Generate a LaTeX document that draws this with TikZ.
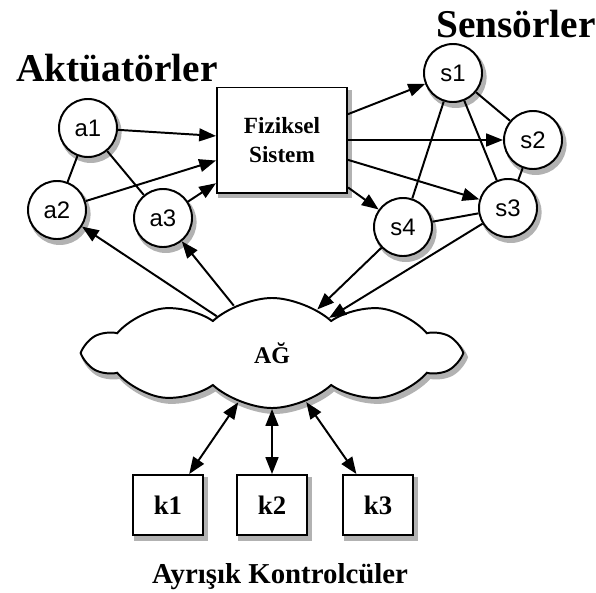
\documentclass[tikz,border=0pt]{standalone}
\usepackage{fontspec}
\setmainfont{Liberation Serif}
\newfontfamily\circfont{Liberation Sans}
\usetikzlibrary{arrows.meta,shapes.symbols,shadows}

\tikzset{
  shad/.style={preaction={draw=black!30,fill=black!30,line width=2.5pt,transform canvas={xshift=2pt,yshift=-3pt}}},
  dev/.style={circle,draw,fill=white,shad,minimum size=1.45cm,inner sep=0pt,font=\circfont\fontsize{17}{17}\selectfont},
  kbox/.style={rectangle,draw,fill=white,shad,minimum width=1.75cm,minimum height=1.5cm,font=\bfseries\fontsize{19}{19}\selectfont},
  title/.style={font=\bfseries\fontsize{28}{28}\selectfont}
}

\begin{document}
\begin{tikzpicture}[x=0.025cm,y=-0.025cm,line width=1.4pt,>={Triangle[length=4.2mm,width=3.2mm]}]
\useasboundingbox (0,0) rectangle (596,592);
\node[title] (act) at (117,68) {Akt\"uat\"orler};
\node[title] (sens) at (516,24) {Sens\"orler};
% fiziksel sistem
\node[rectangle,draw,fill=white,shad,minimum width=3.25cm,minimum height=2.625cm,align=center,font=\bfseries\fontsize{16.5}{20}\selectfont] (fs) at (282,140) {Fiziksel\\Sistem};
\node[dev] (a1) at (88,128) {a1};
\node[dev] (a2) at (57,210) {a2};
\node[dev] (a3) at (163,218) {a3};
\node[dev] (s1) at (453,73) {s1};
\node[dev] (s2) at (533,140) {s2};
\node[dev] (s3) at (508,208) {s3};
\node[dev] (s4) at (403,227) {s4};
% ag
\node[cloud,draw,fill=white,shad,cloud puffs=10,cloud puff arc=85,aspect=3.4,minimum width=9.3cm,minimum height=2.75cm,font=\bfseries\fontsize{17}{17}\selectfont] (ag) at (272,353) {A\u{G}};
\node[kbox] (k1) at (168,505) {k1};
\node[kbox] (k2) at (272,505) {k2};
\node[kbox] (k3) at (378,505) {k3};
\node[font=\bfseries\fontsize{20.5}{20.5}\selectfont] (kont) at (280,577) {Ayr\i\c{s}\i k Kontrolc\"uler};

\draw (a1) -- (a2);
\draw (a1) -- (a3);
\draw (s1) -- (s2);
\draw (s1) -- (s3);
\draw (s1) -- (s4);
\draw (s2) -- (s3);
\draw (s3) -- (s4);
\draw[->] (a1) -- (fs);
\draw[->] (a2) -- (fs);
\draw[->] (a3) -- (fs);
\draw[->] (fs) -- (s1);
\draw[->] (fs) -- (s2);
\draw[->] (fs) -- (s3);
\draw[->] (fs) -- (s4);
\draw[->] (ag) -- (a2);
\draw[->] (ag) -- (a3);
\draw[->] (s4) -- (ag);
\draw[->] (s3) -- (ag);
\draw[<->] (ag) -- (k1);
\draw[<->] (ag) -- (k2);
\draw[<->] (ag) -- (k3);
\end{tikzpicture}
\end{document}
